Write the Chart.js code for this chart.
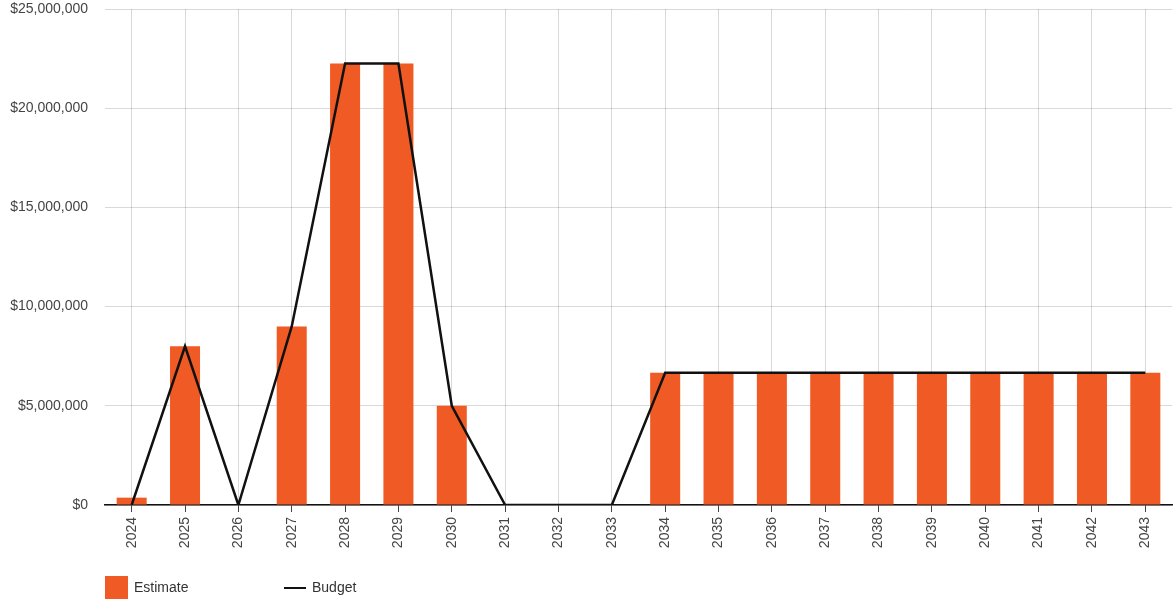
<!DOCTYPE html>
<html>
<head>
<meta charset="utf-8">
<script src="https://cdn.jsdelivr.net/npm/chart.js@4/dist/chart.umd.min.js"></script>
<style>
  html, body { margin: 0; padding: 0; background: #fff; }
  #wrap { position: relative; width: 1174px; height: 599px; font-family: "Liberation Sans", Arial, sans-serif; }
  #chart { position: absolute; left: 0; top: 0; }
  .legend { position: absolute; top: 576px; height: 23px; font-size: 14px; color: #333; line-height: 23px; }
  .swatch { position: absolute; left: 0; top: 0; width: 23px; height: 23px; background: #f05a24; }
  .stroke { position: absolute; left: 0; top: 11px; width: 22px; height: 2px; background: #111; }
</style>
</head>
<body>
<div id="wrap">
  <canvas id="chart" width="1174" height="599"></canvas>
  <div class="legend" style="left:105px;"><span class="swatch"></span><span style="margin-left:29px;">Estimate</span></div>
  <div class="legend" style="left:284px;"><span class="stroke"></span><span style="margin-left:28px;">Budget</span></div>
</div>
<script>
// Fiscal years shown on the horizontal axis
const years = ['2024','2025','2026','2027','2028','2029','2030','2031','2032','2033',
               '2034','2035','2036','2037','2038','2039','2040','2041','2042','2043'];

// Estimated spend per year (bars)
const estimate = [370000, 8000000, 0, 9000000, 22250000, 22250000, 5000000, 0, 0, 0,
                  6670000, 6670000, 6670000, 6670000, 6670000, 6670000, 6670000, 6670000, 6670000, 6670000];

// Budgeted amount per year (line)
const budget = [0, 8000000, 0, 9000000, 22250000, 22250000, 5000000, 0, 0, 0,
                6670000, 6670000, 6670000, 6670000, 6670000, 6670000, 6670000, 6670000, 6670000, 6670000];

// Value-axis ticks
const yTicks = [0, 5000000, 10000000, 15000000, 20000000, 25000000];

const fontFamily = '"Liberation Sans", Arial, sans-serif';

new Chart(document.getElementById('chart'), {
  data: {
    labels: years,
    datasets: [
      {
        type: 'line',
        label: 'Budget',
        data: budget,
        borderColor: '#111',
        borderWidth: 2.5,
        pointRadius: 0,
        tension: 0,
        order: 0
      },
      {
        type: 'bar',
        label: 'Estimate',
        data: estimate,
        backgroundColor: '#f05a24',
        barPercentage: 0.5625,
        categoryPercentage: 1,
        order: 1
      }
    ]
  },
  options: {
    responsive: false,
    animation: false,
    layout: { padding: { top: 9, right: 2, left: 0, bottom: 0 } },
    plugins: {
      legend: { display: false },
      tooltip: { enabled: false }
    },
    scales: {
      x: {
        z: 1,
        grid: {
          offset: false,
          color: 'rgba(0,0,0,0.15)',
          tickColor: '#444',
          tickLength: 7,
          lineWidth: 1
        },
        border: { display: true, color: '#111', width: 1.5 },
        ticks: {
          minRotation: 90,
          maxRotation: 90,
          padding: 5,
          color: '#444',
          font: { family: fontFamily, size: 14 }
        },
        afterFit: (scale) => { scale.height = 94; }
      },
      y: {
        z: 1,
        min: 0,
        max: 25000000,
        grid: {
          color: 'rgba(0,0,0,0.15)',
          drawTicks: false,
          lineWidth: 1
        },
        border: { display: false },
        afterBuildTicks: (scale) => { scale.ticks = yTicks.map(v => ({ value: v })); },
        ticks: {
          padding: 17,
          color: '#444',
          font: { family: fontFamily, size: 14 },
          callback: (v) => '$' + Number(v).toLocaleString('en-US')
        },
        afterFit: (scale) => {
          scale.width = 105;
          scale.paddingTop = 0;
          scale.paddingBottom = 0;
        }
      }
    }
  }
});
</script>
</body>
</html>
